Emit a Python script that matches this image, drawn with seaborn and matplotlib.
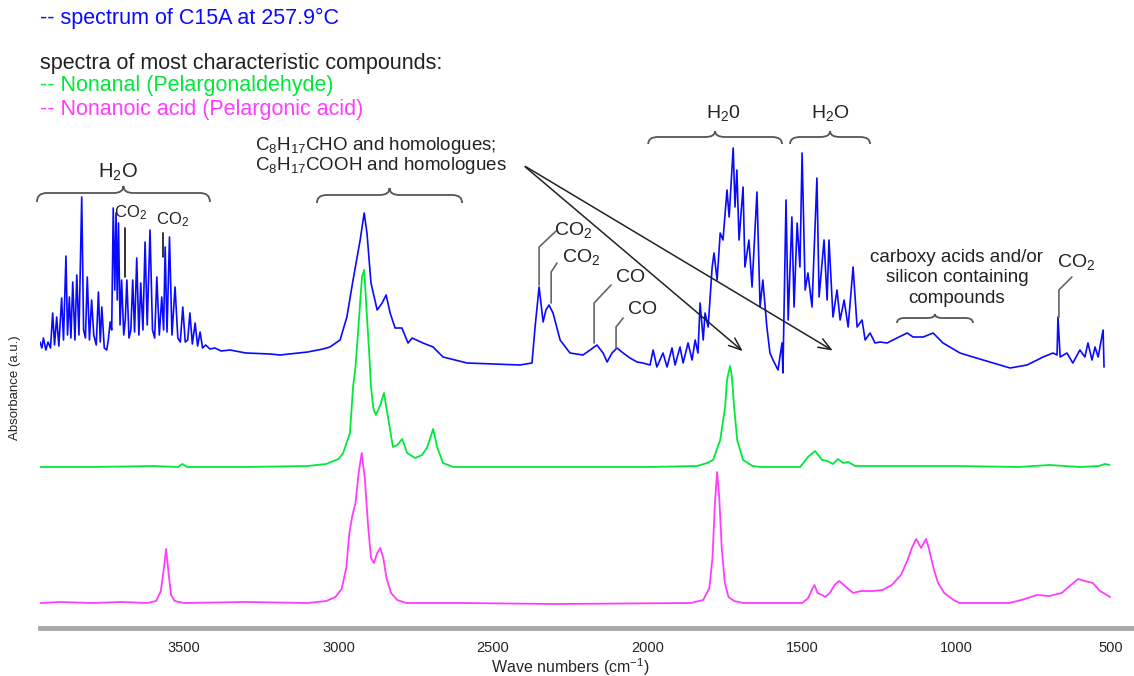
import matplotlib
matplotlib.use("Agg")
import matplotlib.pyplot as plt
from matplotlib.path import Path
from matplotlib.patches import PathPatch
from matplotlib.ticker import MultipleLocator
import seaborn as sns

# spectrum of C15A at 257.9 C  (wave number, absorbance above its own baseline)
blue_wn = [3966, 3960, 3955, 3947, 3940, 3932, 3925, 3919, 3912, 3905, 3896, 3890, 3882, 3877, 3871,
           3866, 3860, 3853, 3847, 3840, 3831, 3825, 3819, 3813, 3806, 3799, 3792, 3784, 3777, 3771,
           3766, 3758, 3750, 3745, 3739, 3734, 3729, 3724, 3720, 3716, 3712, 3707, 3702, 3695, 3690,
           3685, 3678, 3672, 3666, 3660, 3653, 3646, 3640, 3633, 3626, 3619, 3610, 3602, 3595, 3588,
           3580, 3572, 3566, 3561, 3555, 3547, 3539, 3529, 3520, 3512, 3504, 3496, 3488, 3481, 3473,
           3464, 3456, 3448, 3440, 3430, 3416, 3400, 3380, 3351, 3300, 3222, 3189, 3100, 3050, 3028,
           2995, 2973, 2953, 2930, 2917, 2908, 2895, 2875, 2859, 2846, 2833, 2817, 2795, 2775, 2762,
           2727, 2694, 2662, 2584, 2500, 2413, 2374, 2364, 2351, 2338, 2329, 2319, 2306, 2283, 2251,
           2209, 2186, 2164, 2144, 2131, 2115, 2099, 2079, 2057, 2034, 2015, 1992, 1982, 1970, 1950,
           1937, 1921, 1911, 1895, 1885, 1869, 1856, 1846, 1837, 1830, 1820, 1814, 1804, 1791, 1785,
           1775, 1765, 1756, 1743, 1736, 1723, 1717, 1711, 1704, 1691, 1685, 1672, 1662, 1646, 1636,
           1627, 1614, 1604, 1594, 1578, 1565, 1562, 1552, 1545, 1533, 1526, 1516, 1507, 1500, 1490,
           1481, 1468, 1452, 1445, 1429, 1419, 1413, 1400, 1387, 1377, 1364, 1351, 1335, 1322, 1306,
           1296, 1280, 1264, 1248, 1225, 1193, 1160, 1141, 1108, 1076, 1044, 989, 947, 882, 827,
           772, 720, 688, 675, 672, 665, 643, 624, 601, 585, 575, 562, 552, 542, 526, 523]
blue_abs = [18, 12, 22, 10, 18, 12, 47, 15, 43, 14, 62, 20, 104, 25, 63,
            22, 78, 20, 85, 25, 163, 30, 22, 83, 20, 60, 25, 15, 68, 18,
            53, 12, 10, 20, 38, 30, 152, 70, 147, 60, 137, 35, 80, 25, 40,
            80, 22, 30, 80, 28, 102, 25, 77, 30, 118, 35, 130, 30, 22, 83,
            25, 63, 30, 113, 28, 123, 25, 73, 22, 18, 53, 18, 20, 47, 16,
            37, 14, 28, 12, 15, 11, 12, 9, 10, 7, 6, 5, 8, 11, 13,
            20, 43, 80, 120, 147, 127, 77, 50, 57, 65, 47, 32, 32, 17, 22,
            17, 13, 3, -3, -4, -5, -3, 33, 73, 38, 50, 55, 47, 20, 7,
            5, 10, 15, 7, -2, 7, 12, 7, 2, -2, -3, -5, 10, -7, 7,
            -7, 12, -5, 13, -3, 17, 0, 20, 7, 57, 20, 47, 33, 93, 107,
            80, 127, 120, 170, 143, 212, 153, 190, 120, 173, 93, 120, 73, 168, 53,
            80, 33, 7, 0, -10, 17, -13, 160, 40, 143, 53, 137, 93, 207, 70,
            87, 53, 182, 63, 120, 60, 120, 43, 70, 40, 60, 33, 93, 33, 40,
            20, 27, 17, 18, 17, 22, 27, 23, 23, 27, 17, 7, 3, -3, -8,
            -5, 3, 7, 5, 43, 3, 7, -3, 10, 3, 17, 0, 13, 3, 30, -7]

# Nonanal (Pelargonaldehyde)
green_wn = [3966, 3800, 3600, 3520, 3505, 3490, 3300, 3100, 3040, 3000, 2985, 2963, 2953, 2945, 2937,
            2930, 2924, 2917, 2908, 2900, 2895, 2887, 2879, 2865, 2853, 2840, 2824, 2810, 2794, 2778,
            2752, 2730, 2714, 2702, 2694, 2688, 2681, 2662, 2629, 2000, 1840, 1807, 1788, 1765, 1749,
            1743, 1733, 1727, 1720, 1710, 1691, 1660, 1636, 1506, 1481, 1458, 1435, 1419, 1400, 1384,
            1367, 1351, 1328, 1200, 1000, 800, 700, 600, 540, 520, 505]
green_abs = [0, 0, 1, 0, 3, 0, 0, 1, 3, 8, 14, 34, 80, 100, 134,
             165, 190, 197, 150, 110, 80, 58, 52, 62, 74, 50, 20, 22, 28, 14,
             9, 12, 19, 30, 38, 30, 20, 4, 0, 0, 1, 4, 7, 27, 60,
             87, 101, 90, 60, 27, 7, 1, 0, 0, 10, 16, 7, 6, 3, 8,
             4, 5, 1, 1, 1, 0, 2, 0, 1, 3, 2]

# Nonanoic acid (Pelargonic acid)
magenta_wn = [3966, 3900, 3800, 3700, 3620, 3590, 3575, 3565, 3558, 3550, 3542, 3530, 3500, 3300, 3100,
              3040, 3010, 2990, 2975, 2965, 2955, 2945, 2935, 2925, 2915, 2905, 2895, 2885, 2875, 2865,
              2855, 2845, 2830, 2810, 2780, 2600, 2300, 1860, 1820, 1800, 1790, 1782, 1775, 1768, 1760,
              1750, 1738, 1720, 1690, 1500, 1480, 1470, 1460, 1450, 1435, 1425, 1410, 1395, 1380, 1365,
              1350, 1335, 1310, 1270, 1240, 1210, 1180, 1160, 1145, 1131, 1115, 1099, 1090, 1075, 1060,
              1040, 1010, 990, 900, 830, 790, 740, 700, 660, 630, 607, 585, 559, 536, 503]
magenta_abs = [0, 1, 0, 1, 0, 2, 12, 35, 54, 30, 8, 2, 0, 1, 0,
               2, 6, 14, 35, 70, 88, 100, 130, 150, 125, 80, 45, 40, 50, 55,
               45, 25, 10, 3, 0, 0, -1, 0, 3, 15, 45, 100, 131, 105, 55,
               20, 6, 2, 0, 0, 5, 12, 18, 10, 8, 6, 10, 18, 22, 18,
               14, 10, 12, 12, 13, 18, 28, 42, 55, 64, 55, 64, 55, 35, 20,
               10, 3, 0, 0, 0, 3, 8, 7, 10, 18, 24, 22, 20, 12, 6]

major_ticks = [3500, 3000, 2500, 2000, 1500, 1000, 500]

BLUE = "#0a0aff"
GREEN = "#00e83a"
MAGENTA = "#ff3cff"
GREY = "#555555"
INK = "#222222"

sns.set_style("white")
plt.rcParams["font.family"] = ["Liberation Sans", "DejaVu Sans"]
plt.rcParams["mathtext.fontset"] = "custom"
plt.rcParams["mathtext.rm"] = "Liberation Sans"
plt.rcParams["mathtext.it"] = "Liberation Sans:italic"

fig = plt.figure(figsize=(11.34, 6.76), dpi=100)
ax = fig.add_axes([40 / 1134, 48 / 676, 1 - 40 / 1134, 628 / 676])

# vertical stacking of the three traces
offsets = {"blue": 268, "green": 161, "magenta": 25}

sns.lineplot(x=magenta_wn, y=[v + offsets["magenta"] for v in magenta_abs], ax=ax,
             color=MAGENTA, lw=1.3, sort=False)
sns.lineplot(x=green_wn, y=[v + offsets["green"] for v in green_abs], ax=ax,
             color=GREEN, lw=1.3, sort=False)
sns.lineplot(x=blue_wn, y=[v + offsets["blue"] for v in blue_abs], ax=ax,
             color=BLUE, lw=1.2, sort=False)

ax.set_xlim(3966, 426)
ax.set_ylim(0, 628)
ax.set_yticks([])
ax.xaxis.set_major_locator(plt.FixedLocator(major_ticks))
ax.xaxis.set_minor_locator(MultipleLocator(100))
ax.tick_params(axis="x", which="major", direction="inout", length=6, width=1,
               color="#444444", labelsize=10.5, pad=6)
ax.tick_params(axis="x", which="minor", direction="inout", length=5, width=1, color="#444444")
for side in ["left", "top", "right"]:
    ax.spines[side].set_visible(False)
ax.spines["bottom"].set_color("#a8a8a8")
ax.spines["bottom"].set_linewidth(3.5)
ax.set_xlabel("Wave numbers (cm$^{-1}$)", fontsize=11.5)
ax.xaxis.set_label_coords((570 - 40) / 1094, -0.045)
fig.text(15 / 1134, 1 - 388 / 676, "Absorbance (a.u.)", rotation=90, fontsize=9.5,
         ha="center", va="center")


def brace(x0, x1, y, d_end=8, d_tip=7, r=32):
    xm = (x0 + x1) / 2
    verts = [(x0, y - d_end), (x0, y), (x0 - r, y), (xm + r, y), (xm, y), (xm, y + d_tip),
             (xm, y), (xm - r, y), (x1 + r, y), (x1, y), (x1, y - d_end)]
    codes = [Path.MOVETO, Path.CURVE3, Path.CURVE3, Path.LINETO, Path.CURVE3, Path.CURVE3,
             Path.CURVE3, Path.CURVE3, Path.LINETO, Path.CURVE3, Path.CURVE3]
    ax.add_patch(PathPatch(Path(verts, codes), fc="none", ec=GREY, lw=1.3, clip_on=False))


def leader(xs, ys, color="#666666"):
    ax.plot(xs, ys, color=color, lw=1.2, clip_on=False)


# header lines
fig.text(40 / 1134, 1 - 18 / 676, "-- spectrum of C15A at 257.9°C", color=BLUE, fontsize=15.5, va="center")
fig.text(40 / 1134, 1 - 63 / 676, "spectra of most characteristic compounds:", color=INK,
         fontsize=15.5, va="center")
fig.text(40 / 1134, 1 - 86 / 676, "-- Nonanal (Pelargonaldehyde)", color=GREEN, fontsize=15.5, va="center")
fig.text(40 / 1134, 1 - 110 / 676, "-- Nonanoic acid (Pelargonic acid)", color=MAGENTA, fontsize=15.5,
         va="center")

# water bands
brace(3976, 3416, 435, d_end=9, d_tip=7)
ax.text(3714, 456, "H$_2$O", fontsize=14.5, ha="center", va="center", color=INK)
ax.text(3672, 415, "CO$_2$", fontsize=12, ha="center", va="center", color=INK)
ax.text(3536, 408, "CO$_2$", fontsize=12, ha="center", va="center", color=INK)
leader([3691, 3691], [400, 351], color="#111111")
leader([3568, 3568], [395, 371], color="#111111")

# C-H stretch region
brace(3070, 2600, 433, d_end=8, d_tip=7)
ax.text(3270, 482, "C$_8$H$_{17}$CHO and homologues;", fontsize=13.5, ha="left", va="center", color=INK)
ax.text(3270, 462, "C$_8$H$_{17}$COOH and homologues", fontsize=13.5, ha="left", va="center", color=INK)
for tip in [(1685, 275), (1393, 276)]:
    ax.annotate("", xy=tip, xytext=(2403, 463),
                arrowprops=dict(arrowstyle="->,head_length=0.9,head_width=0.35", color=INK, lw=1.1))

# CO2 / CO labels
ax.text(2240, 398, "CO$_2$", fontsize=14, ha="center", va="center", color=INK)
leader([2296, 2351, 2351], [397, 381, 343])
ax.text(2215, 371, "CO$_2$", fontsize=14, ha="center", va="center", color=INK)
leader([2293, 2312, 2312], [365, 356, 325])
ax.text(2055, 351, "CO", fontsize=14, ha="center", va="center", color=INK)
leader([2118, 2173, 2173], [343, 325, 285])
ax.text(2015, 318, "CO", fontsize=14, ha="center", va="center", color=INK)
leader([2079, 2102, 2102], [310, 301, 280])

# H2O bands over 1700 and 1450
brace(1998, 1565, 491, d_end=7, d_tip=6)
ax.text(1756, 515, "H$_2$0", fontsize=14, ha="center", va="center", color=INK)
brace(1539, 1280, 491, d_end=7, d_tip=6)
ax.text(1410, 515, "H$_2$O", fontsize=14, ha="center", va="center", color=INK)

# carboxy acids
ax.text(999, 350, "carboxy acids and/or\nsilicon containing\ncompounds", fontsize=13.5,
        ha="center", va="center", color=INK, linespacing=1.3)
brace(1193, 947, 310, d_end=5, d_tip=4, r=25)

ax.text(612, 366, "CO$_2$", fontsize=14, ha="center", va="center", color=INK)
leader([627, 669, 669], [351, 338, 311])

fig.savefig("out.png", dpi=100)
